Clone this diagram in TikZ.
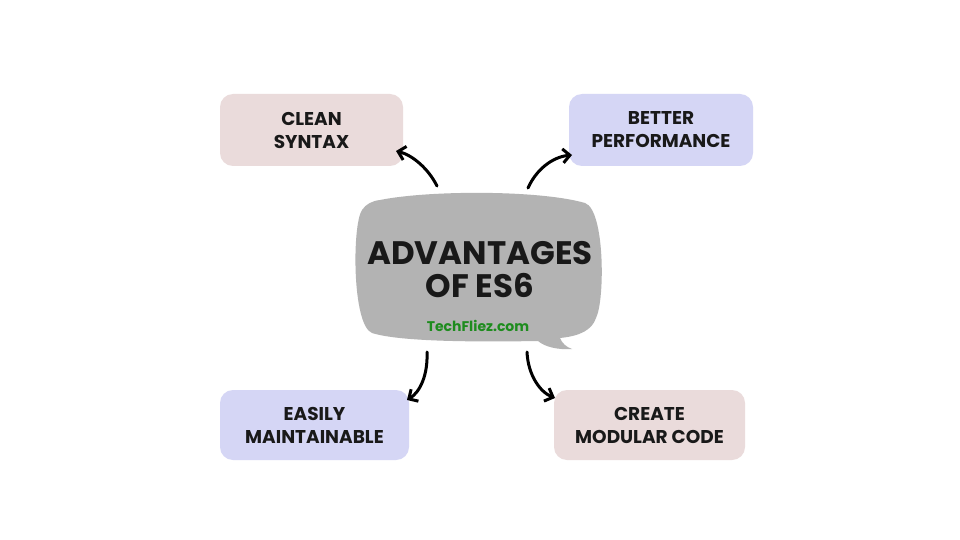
\documentclass[tikz,border=0pt]{standalone}
\usepackage{fontspec}
\setmainfont{Poppins}
\usetikzlibrary{arrows.meta}
\definecolor{pinkbox}{HTML}{EADBDB}
\definecolor{bluebox}{HTML}{D5D6F5}
\definecolor{bubble}{HTML}{B3B3B3}
\definecolor{tfgreen}{HTML}{1E8C1E}
\begin{document}
\begin{tikzpicture}[x=1pt,y=-1pt,
  card/.style={rounded corners=13pt,inner sep=0pt,align=center,font=\fontsize{18.5}{23}\selectfont\bfseries,text=black!90},
  arr/.style={line width=3pt,-{Straight Barb[length=7pt,width=14pt,line width=3pt]},line cap=round}]
\useasboundingbox (0,0) rectangle (960,540);
\fill[white] (0,0) rectangle (960,540);
% bubble
\fill[bubble] (380,200) .. controls (430,190) and (540,190) .. (585,203)
  .. controls (605,210) and (605,300) .. (596,318)
  .. controls (592,330) and (580,336) .. (560,338)
  .. controls (562,343) and (566,347) .. (572,349)
  .. controls (558,350) and (545,347) .. (538,341)
  .. controls (480,342) and (400,342) .. (372,333)
  .. controls (352,325) and (352,225) .. (362,210)
  .. controls (366,204) and (372,201) .. (380,200) -- cycle;
\node[font=\fontsize{32.5}{33}\selectfont\bfseries,align=center,text=black!90] (title) at (480,270) {ADVANTAGES\\OF ES6};
\node[font=\fontsize{14}{16}\selectfont\bfseries,text=tfgreen] (site) at (478,326) {TechFliez.com};
% cards
\node[card,fill=pinkbox,minimum width=183pt,minimum height=72pt] (clean) at (311.5,130) {CLEAN\\SYNTAX};
\node[card,fill=bluebox,minimum width=184pt,minimum height=72pt] (perf) at (661,130) {BETTER\\PERFORMANCE};
\node[card,fill=bluebox,minimum width=189pt,minimum height=70pt] (maint) at (314.5,425) {EASILY\\MAINTAINABLE};
\node[card,fill=pinkbox,minimum width=191pt,minimum height=70pt] (mod) at (649.5,425) {CREATE\\MODULAR CODE};
% arrows
\coordinate (a1) at (437,186); \coordinate (b1) at (396,151);
\coordinate (a2) at (528,188); \coordinate (b2) at (572,155);
\coordinate (a3) at (427,352); \coordinate (b3) at (407,400);
\coordinate (a4) at (527,352); \coordinate (b4) at (555,398);
\draw[arr] (a1) .. controls (428,168) and (412,155) .. (b1);
\draw[arr] (a2) .. controls (536,170) and (552,157) .. (b2);
\draw[arr] (a3) .. controls (428,375) and (420,392) .. (b3);
\draw[arr] (a4) .. controls (528,375) and (540,392) .. (b4);
\end{tikzpicture}
\end{document}
